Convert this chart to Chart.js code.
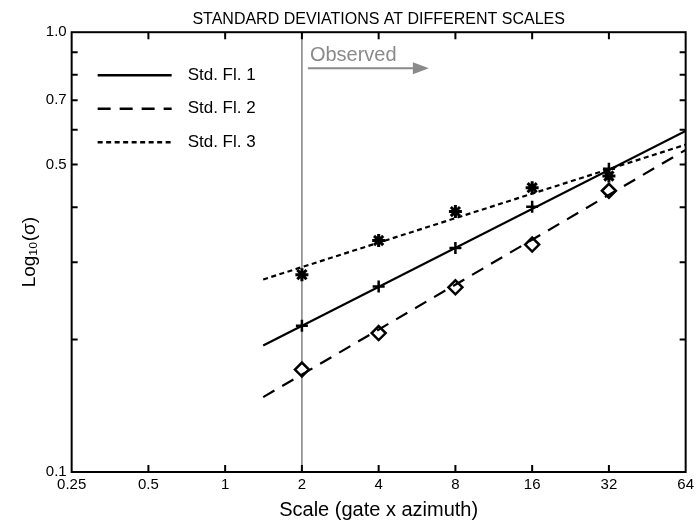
<!DOCTYPE html>
<html>
<head>
<meta charset="utf-8">
<script src="https://cdn.jsdelivr.net/npm/chart.js@4.4.1/dist/chart.umd.min.js"></script>
<style>
  html, body { margin: 0; padding: 0; background: #fff; }
  #wrap { width: 698px; height: 522px; }
</style>
</head>
<body>
<div id="wrap"><canvas id="chartStd" width="698" height="522"></canvas></div>
<script>
// ── Datos ─────────────────────────────────────────────────────────────────
var SCALES = [2, 4, 8, 16, 32];
var FL1 = [0.215, 0.264, 0.323, 0.401, 0.489];
var FL2 = [0.171, 0.207, 0.263, 0.329, 0.436];
var FL3 = [0.281, 0.336, 0.391, 0.443, 0.471];

// rectas de ajuste (extremos)
var FIT_X = [1.41, 64];
var FIT1 = [0.194, 0.596];
var FIT2 = [0.148, 0.540];
var FIT3 = [0.274, 0.555];

var X_TICKS = [0.25, 0.5, 1, 2, 4, 8, 16, 32, 64];
var Y_TICKS = [0.1, 0.2, 0.3, 0.4, 0.5, 0.6, 0.7, 0.8, 0.9, 1.0];
var Y_LABELED = [0.1, 0.5, 0.7, 1.0];
var OBSERVED_X = 2;

var LABELS = ['Std. Fl. 1', 'Std. Fl. 2', 'Std. Fl. 3'];
var DASHES = [[], [13, 9], [5, 3.5]];

var FONT = "'Liberation Sans', Arial, sans-serif";

function pts(xs, ys) {
    return xs.map(function (x, i) { return { x: x, y: ys[i] }; });
}

// ── Plugin: marco, ticks internos, leyenda y "Observed" ───────────────────
var decor = {
    id: 'decor',
    beforeDatasetsDraw: function (chart) {
        var a = chart.chartArea, ctx = chart.ctx;
        var px = chart.scales.x.getPixelForValue(OBSERVED_X);
        ctx.save();
        ctx.strokeStyle = '#8a8a8a';
        ctx.lineWidth = 1.6;
        ctx.beginPath();
        ctx.moveTo(px, a.top);
        ctx.lineTo(px, a.bottom);
        ctx.stroke();
        ctx.restore();
    },
    afterDatasetsDraw: function (chart) {
        var a = chart.chartArea, ctx = chart.ctx;
        var sx = chart.scales.x, sy = chart.scales.y;
        ctx.save();

        // marco
        ctx.strokeStyle = '#000';
        ctx.lineWidth = 2;
        ctx.strokeRect(a.left, a.top, a.right - a.left, a.bottom - a.top);

        // ticks hacia dentro
        ctx.beginPath();
        X_TICKS.forEach(function (v, i) {
            if (i === 0 || i === X_TICKS.length - 1) return;
            var p = sx.getPixelForValue(v);
            ctx.moveTo(p, a.bottom); ctx.lineTo(p, a.bottom - 7);
            ctx.moveTo(p, a.top); ctx.lineTo(p, a.top + 7);
        });
        Y_TICKS.forEach(function (v, i) {
            if (i === 0 || i === Y_TICKS.length - 1) return;
            var p = sy.getPixelForValue(v);
            ctx.moveTo(a.left, p); ctx.lineTo(a.left + 6, p);
            ctx.moveTo(a.right, p); ctx.lineTo(a.right - 6, p);
        });
        ctx.stroke();

        // leyenda
        ctx.font = '17px ' + FONT;
        ctx.textBaseline = 'middle';
        ctx.fillStyle = '#000';
        LABELS.forEach(function (l, i) {
            var y = a.top + 43 + i * 33.5;
            ctx.lineWidth = 2.6;
            ctx.setLineDash(DASHES[i]);
            ctx.beginPath();
            ctx.moveTo(a.left + 26, y);
            ctx.lineTo(a.left + 100, y);
            ctx.stroke();
            ctx.setLineDash([]);
            ctx.fillText(l, a.left + 116, y);
        });

        // "Observed" + flecha
        var px = sx.getPixelForValue(OBSERVED_X);
        ctx.fillStyle = '#8a8a8a';
        ctx.strokeStyle = '#8a8a8a';
        ctx.font = '20px ' + FONT;
        ctx.textBaseline = 'alphabetic';
        ctx.fillText('Observed', px + 8, a.top + 29);
        ctx.lineWidth = 2;
        ctx.beginPath();
        ctx.moveTo(px + 6, a.top + 36);
        ctx.lineTo(px + 114, a.top + 36);
        ctx.stroke();
        ctx.beginPath();
        ctx.moveTo(px + 127, a.top + 36);
        ctx.lineTo(px + 111, a.top + 30);
        ctx.lineTo(px + 111, a.top + 42);
        ctx.closePath();
        ctx.fill();

        ctx.restore();
    }
};

var lineDs = function (ys, dash) {
    return {
        data: pts(FIT_X, ys),
        showLine: true,
        borderColor: '#000',
        borderWidth: 2.2,
        borderDash: dash,
        pointRadius: 0,
        fill: false
    };
};
var markDs = function (ys, style, r, w) {
    return {
        data: pts(SCALES, ys),
        showLine: false,
        pointStyle: style,
        pointRadius: r,
        pointBorderWidth: w,
        pointBorderColor: '#000',
        pointBackgroundColor: '#fff'
    };
};

new Chart(document.getElementById('chartStd'), {
    type: 'scatter',
    data: {
        datasets: [
            lineDs(FIT1, DASHES[0]),
            lineDs(FIT2, DASHES[1]),
            lineDs(FIT3, DASHES[2]),
            markDs(FL1, 'cross', 6, 2.5),
            markDs(FL2, 'rectRot', 7, 2.5),
            markDs(FL3, 'star', 6.5, 3)
        ]
    },
    options: {
        responsive: false,
        animation: false,
        events: [],
        layout: { padding: { left: 18, right: 6, top: 0, bottom: 0 } },
        plugins: {
            legend: { display: false },
            tooltip: { enabled: false }
        },
        scales: {
            x: {
                type: 'logarithmic',
                min: 0.25,
                max: 64,
                afterBuildTicks: function (s) { s.ticks = X_TICKS.map(function (v) { return { value: v }; }); },
                ticks: {
                    autoSkip: false,
                    maxRotation: 0,
                    padding: 4,
                    color: '#000',
                    font: { family: FONT, size: 15 },
                    callback: function (v) { return String(v); }
                },
                grid: { display: false, drawTicks: false },
                border: { display: false },
                title: {
                    display: true,
                    text: 'Scale (gate x azimuth)',
                    color: '#000',
                    font: { family: FONT, size: 20 },
                    padding: { top: 0, bottom: 0 }
                }
            },
            // eje superior solo para centrar el título sobre el área del gráfico
            x2: {
                type: 'logarithmic',
                position: 'top',
                min: 0.25,
                max: 64,
                ticks: { display: false },
                grid: { display: false, drawTicks: false },
                border: { display: false },
                title: {
                    display: true,
                    text: 'STANDARD DEVIATIONS AT DIFFERENT SCALES',
                    color: '#000',
                    font: { family: FONT, size: 16 },
                    padding: { top: 10, bottom: 3 }
                }
            },
            y: {
                type: 'logarithmic',
                min: 0.1,
                max: 1.0,
                afterBuildTicks: function (s) { s.ticks = Y_TICKS.map(function (v) { return { value: v }; }); },
                ticks: {
                    autoSkip: false,
                    padding: 5,
                    color: '#000',
                    font: { family: FONT, size: 15 },
                    callback: function (v) {
                        var hit = Y_LABELED.some(function (t) { return Math.abs(t - v) < 1e-9; });
                        return hit ? v.toFixed(1) : '';
                    }
                },
                grid: { display: false, drawTicks: false },
                border: { display: false },
                title: {
                    display: true,
                    text: 'Log\u2081\u2080(\u03c3)',
                    color: '#000',
                    font: { family: FONT, size: 19 },
                    padding: { top: 0, bottom: 0 }
                }
            }
        }
    },
    plugins: [decor]
});
</script>
</body>
</html>
